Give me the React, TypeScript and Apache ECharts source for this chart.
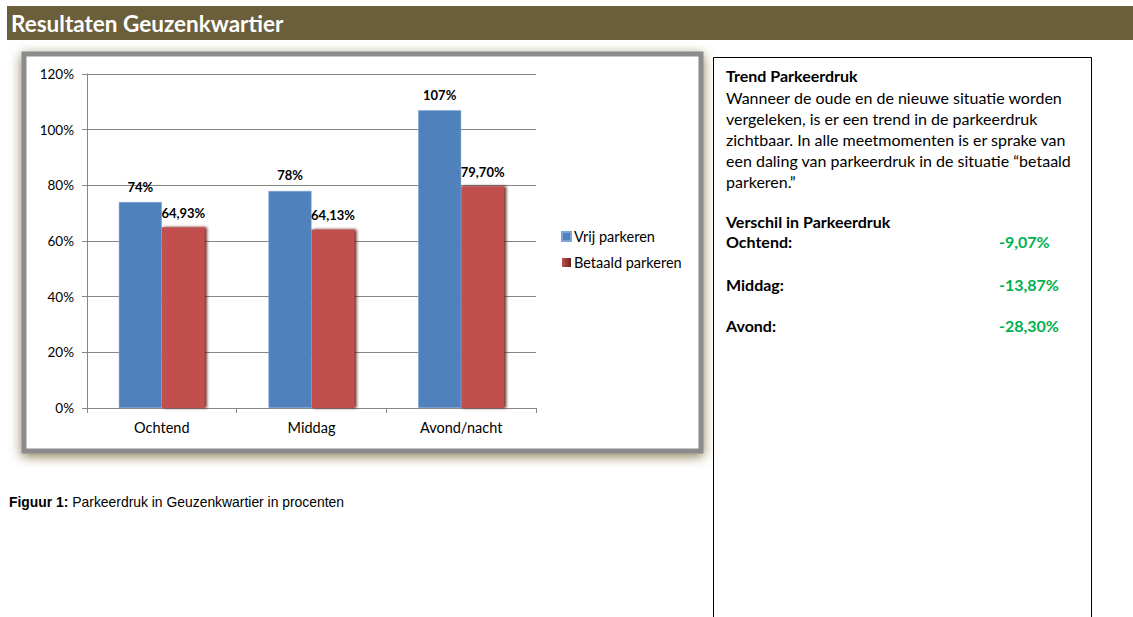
import React, { useEffect, useRef } from "react";
import * as echarts from "echarts";

const categories = ["Ochtend", "Middag", "Avond/nacht"];
const vrijParkeren = [74, 78, 107];
const betaaldParkeren = [64.93, 64.13, 79.7];
const yTicks = [0, 20, 40, 60, 80, 100, 120];
const seriesNames = ["Vrij parkeren", "Betaald parkeren"];
const diffLabels = ["Ochtend:", "Middag:", "Avond:"];
const diffValues = ["-9,07%", "-13,87%", "-28,30%"];
const paragraph = [
  "Wanneer de oude en de nieuwe situatie worden",
  "vergeleken, is er een trend in de parkeerdruk",
  "zichtbaar. In alle meetmomenten is er sprake van",
  "een daling van parkeerdruk in de situatie \u201cbetaald",
  "parkeren.\u201d",
];

const FONT = "Lato, 'Open Sans', sans-serif";

export default function App() {
  const ref = useRef<HTMLDivElement>(null);
  useEffect(() => {
    if (!ref.current) return;
    const chart = echarts.init(ref.current, undefined, { renderer: "svg" });
    const fmtInt = (v: number) => `${Math.round(v)}%`;
    const fmtDec = (v: number) => `${v.toFixed(2).replace(".", ",")}%`;

    const graphics: any[] = [
      // banner
      { type: "rect", shape: { x: 7, y: 6, width: 1126, height: 34 }, style: { fill: "#6b5e3a" }, z: 0 },
      {
        type: "text", x: 11, y: 23,
        style: { text: "Resultaten Geuzenkwartier", fill: "#ffffff", font: `bold 22.5px ${FONT}`, verticalAlign: "middle" },
      },
      // chart frame
      {
        type: "rect", shape: { x: 24, y: 54, width: 677, height: 397 }, z: -10,
        style: { fill: "#ffffff", stroke: "#8c8c8c", lineWidth: 5, shadowBlur: 12, shadowColor: "rgba(110,95,40,0.8)", shadowOffsetY: 3 },
      },
      // right box
      {
        type: "polyline", shape: { points: [[713.5, 620], [713.5, 57.5], [1091.5, 57.5], [1091.5, 620]] },
        style: { stroke: "#000000", lineWidth: 1, fill: "none" },
      },
      {
        type: "text", x: 726, y: 75,
        style: { text: "Trend Parkeerdruk", fill: "#000", font: `bold 16px ${FONT}`, verticalAlign: "middle" },
      },
      ...paragraph.map((t, i) => ({
        type: "text", x: 726, y: 97 + i * 21,
        style: { text: t, fill: "#000", font: `16px ${FONT}`, verticalAlign: "middle" },
      })),
      {
        type: "text", x: 726, y: 221,
        style: { text: "Verschil in Parkeerdruk", fill: "#000", font: `bold 16px ${FONT}`, verticalAlign: "middle" },
      },
      ...diffLabels.map((t, i) => ({
        type: "text", x: 726, y: [241, 284, 325][i],
        style: { text: t, fill: "#000", font: `bold 16px ${FONT}`, verticalAlign: "middle" },
      })),
      ...diffValues.map((t, i) => ({
        type: "text", x: 999, y: [241, 284, 325][i],
        style: { text: t, fill: "#00b050", font: `bold 16px ${FONT}`, verticalAlign: "middle" },
      })),
      // caption
      {
        type: "text", x: 9, y: 502,
        style: {
          text: "{b|Figuur 1:} Parkeerdruk in Geuzenkwartier in procenten",
          fill: "#000",
          font: "13.9px 'Liberation Sans', Arial, sans-serif",
          verticalAlign: "middle",
          rich: {
            b: { fontWeight: "bold", fontSize: 13.9, fontFamily: "'Liberation Sans', Arial, sans-serif" },
          },
        },
      },
    ];

    chart.setOption({
      animation: false,
      textStyle: { fontFamily: FONT },
      graphic: graphics,
      grid: { left: 87, top: 74, width: 449, height: 334, containLabel: false },
      legend: {
        orient: "vertical",
        left: 561,
        top: 229,
        padding: 0,
        itemWidth: 9,
        itemHeight: 9,
        itemGap: 11,
        textStyle: { fontSize: 14.5, color: "#000", fontFamily: FONT, padding: [0, 0, 0, -2] },
        data: [
          { name: seriesNames[0], icon: "rect", itemStyle: { color: "#4f81bd" } },
          {
            name: seriesNames[1], icon: "rect",
            itemStyle: {
              color: new echarts.graphic.LinearGradient(0, 0, 1, 0, [
                { offset: 0, color: "#c0504d" },
                { offset: 1, color: "#6e2220" },
              ]),
            },
          },
        ],
      },
      xAxis: {
        type: "category",
        data: categories,
        axisLine: { lineStyle: { color: "#868686" } },
        axisTick: { show: true, alignWithLabel: false, length: 5, lineStyle: { color: "#868686" } },
        axisLabel: { color: "#000", fontSize: 14.5, margin: 12, fontFamily: FONT },
      },
      yAxis: {
        type: "value",
        min: 0,
        max: 120,
        interval: 20,
        axisLine: { show: true, lineStyle: { color: "#868686" } },
        axisTick: { show: true, length: 5, lineStyle: { color: "#868686" } },
        axisLabel: {
          color: "#000", fontSize: 13.5, margin: 13, fontFamily: FONT,
          formatter: (v: number) => (yTicks.includes(v) ? `${v}%` : ""),
        },
        splitLine: { lineStyle: { color: "#868686", width: 1 } },
      },
      series: [
        {
          name: seriesNames[0],
          type: "bar",
          data: vrijParkeren,
          barWidth: 43,
          barGap: "0%",
          itemStyle: { color: "#4f81bd", borderColor: "#7ea5d6", borderWidth: 0.5 },
          label: {
            show: true, position: "top", distance: 9, color: "#000",
            fontWeight: "bold", fontSize: 13, fontFamily: FONT,
            formatter: (p: any) => fmtInt(p.value),
          },
        },
        {
          name: seriesNames[1],
          type: "bar",
          data: betaaldParkeren,
          barWidth: 43,
          itemStyle: {
            color: "#c0504d",
            shadowColor: "rgba(90,20,18,0.95)",
            shadowBlur: 3,
            shadowOffsetX: 2,
            shadowOffsetY: 0,
          },
          label: {
            show: true, position: "top", distance: 8, color: "#000",
            fontWeight: "bold", fontSize: 13, fontFamily: FONT,
            formatter: (p: any) => fmtDec(p.value),
          },
        },
      ],
    });
    return () => chart.dispose();
  }, []);
  return (
    <div
      ref={ref}
      style={{ position: "absolute", left: 0, top: 0, width: 1133, height: 617, background: "#ffffff" }}
    />
  );
}
